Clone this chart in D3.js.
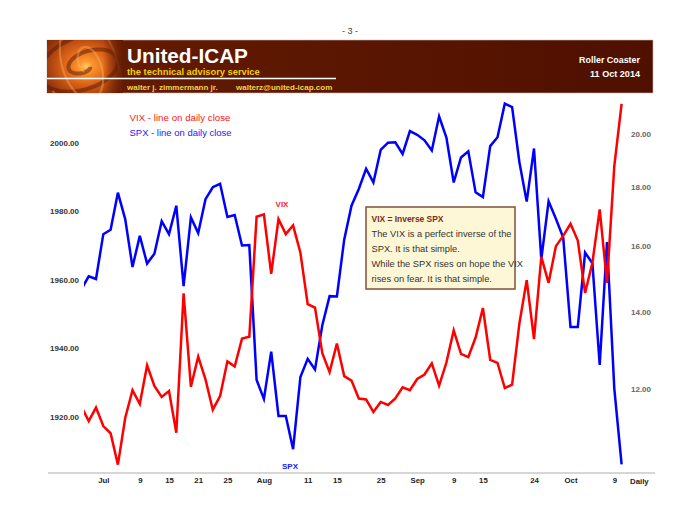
<!DOCTYPE html>
<html><head><meta charset="utf-8">
<script src="https://cdn.jsdelivr.net/npm/d3@7"></script>
<style>
html,body{margin:0;padding:0;background:#fff;}
svg{display:block;}
text{font-family:"Liberation Sans",Arial,sans-serif;}
</style></head>
<body>
<svg id="chart" width="700" height="525"></svg>
<script>
// ---------------- data ----------------
const dates = ["Jun 26","Jun 27","Jun 30","Jul 1","Jul 2","Jul 3","Jul 7","Jul 8","Jul 9","Jul 10",
"Jul 11","Jul 14","Jul 15","Jul 16","Jul 17","Jul 18","Jul 21","Jul 22","Jul 23","Jul 24",
"Jul 25","Jul 28","Jul 29","Jul 30","Jul 31","Aug 1","Aug 4","Aug 5","Aug 6","Aug 7",
"Aug 8","Aug 11","Aug 12","Aug 13","Aug 14","Aug 15","Aug 18","Aug 19","Aug 20","Aug 21",
"Aug 22","Aug 25","Aug 26","Aug 27","Aug 28","Aug 29","Sep 2","Sep 3","Sep 4","Sep 5",
"Sep 8","Sep 9","Sep 10","Sep 11","Sep 12","Sep 15","Sep 16","Sep 17","Sep 18","Sep 19",
"Sep 22","Sep 23","Sep 24","Sep 25","Sep 26","Sep 29","Sep 30","Oct 1","Oct 2","Oct 3",
"Oct 6","Oct 7","Oct 8","Oct 9","Oct 10"];

const spx = [1957.2,1961.0,1960.2,1973.3,1974.6,1985.4,1977.7,1963.7,1972.8,1964.7,
1967.6,1977.1,1973.3,1981.6,1958.1,1978.2,1973.6,1983.5,1987.0,1988.0,
1978.3,1978.9,1970.0,1970.1,1930.7,1925.2,1939.0,1920.2,1920.2,1910.5,
1931.6,1936.9,1933.8,1946.7,1955.2,1955.1,1971.7,1981.6,1986.5,1992.4,
1988.4,1997.9,2000.0,2000.1,1996.7,2003.4,2002.3,2000.7,1997.7,2007.7,
2001.5,1988.4,1995.7,1997.5,1985.5,1984.1,1999.0,2001.6,2011.4,2010.4,
1994.3,1982.8,1998.3,1966.0,1982.9,1977.8,1972.3,1946.2,1946.2,1967.9,
1964.8,1935.1,1971.0,1928.2,1906.1];

const vix = [11.59,11.26,11.57,11.15,10.99,10.32,11.33,11.98,11.65,12.59,
12.08,11.82,11.96,11.00,14.54,12.06,12.81,12.24,11.52,11.84,
12.69,12.56,13.28,13.33,16.95,17.03,15.12,16.87,16.37,16.66,
15.77,14.23,14.13,12.90,12.42,13.15,12.32,12.21,11.78,11.76,
11.47,11.70,11.63,11.78,12.05,11.98,12.25,12.36,12.64,12.09,
12.66,13.50,12.88,12.80,13.31,14.12,12.73,12.65,12.03,12.11,
13.69,14.93,13.27,15.64,14.85,15.98,16.31,16.71,16.16,14.55,
15.46,17.20,14.85,18.76,21.24];

const tickDates  = ["Jul 1","Jul 9","Jul 15","Jul 21","Jul 25","Aug 1","Aug 11","Aug 15","Aug 25","Sep 2","Sep 9","Sep 15","Sep 24","Oct 1","Oct 9"];
const tickLabels = ["Jul","9","15","21","25","Aug","11","15","25","Sep","9","15","24","Oct","9"];
const spxTicks = [1920,1940,1960,1980,2000];
const vixTicks = [12,14,16,18,20];

const boxLines = ["The VIX is a perfect inverse of the","SPX. It is that simple.","While the SPX rises on hope the VIX","rises on fear. It is that simple."];

// ---------------- drawing ----------------
const svg = d3.select("#chart");
const defs = svg.append("defs");

// scale a text's font size so that it spans the given width
function fit(sel, w){
  const l = sel.node().getComputedTextLength();
  if (l > 0) sel.attr("font-size", (+sel.attr("font-size")) * w / l);
  return sel;
}

// page number
svg.append("text").attr("x",350).attr("y",34).attr("text-anchor","middle")
  .attr("font-size",9).attr("fill","#444").text("- 3 -");

// banner
const bg = defs.append("linearGradient").attr("id","bannerGrad").attr("x1","0").attr("x2","1").attr("y1","0").attr("y2","0");
bg.append("stop").attr("offset","0").attr("stop-color","#6e2106");
bg.append("stop").attr("offset","0.15").attr("stop-color","#621a02");
bg.append("stop").attr("offset","1").attr("stop-color","#4f1000");
svg.append("rect").attr("x",47).attr("y",40).attr("width",606).attr("height",53)
  .attr("fill","url(#bannerGrad)").attr("stroke","#c9b8b0").attr("stroke-width",0.6);

const rg = defs.append("radialGradient").attr("id","swirlGrad")
  .attr("cx",0.5).attr("cy",0.5).attr("r",0.6);
rg.append("stop").attr("offset","0").attr("stop-color","#ffd070");
rg.append("stop").attr("offset","0.1").attr("stop-color","#ff9a30");
rg.append("stop").attr("offset","0.4").attr("stop-color","#dc6318");
rg.append("stop").attr("offset","0.75").attr("stop-color","#9a370c");
rg.append("stop").attr("offset","1").attr("stop-color","#6a1f04");
defs.append("clipPath").attr("id","swirlClip").append("rect")
  .attr("x",47).attr("y",40).attr("width",76).attr("height",53);
const sw = svg.append("g").attr("clip-path","url(#swirlClip)");
sw.append("rect").attr("x",40).attr("y",28).attr("width",92).attr("height",76).attr("fill","url(#swirlGrad)");
const fadeG = defs.append("linearGradient").attr("id","fadeGrad").attr("x1","0").attr("x2","1");
fadeG.append("stop").attr("offset","0").attr("stop-color","#621a02").attr("stop-opacity",0);
fadeG.append("stop").attr("offset","1").attr("stop-color","#621a02").attr("stop-opacity",1);
// spiral decoration
function spiral(cx, cy, a, b, t0, t1, sx, sy, rot){
  const pts = d3.range(t0, t1, 0.08).map(t => {
    const r = a + b*t;
    const x0 = r*Math.cos(t)*sx, y0 = r*Math.sin(t)*sy;
    return [cx + x0*Math.cos(rot) - y0*Math.sin(rot), cy + x0*Math.sin(rot) + y0*Math.cos(rot)];
  });
  return d3.line().curve(d3.curveBasis)(pts);
}
sw.append("path").attr("d",spiral(86,66,1,3.0,0.8,14,1.6,0.9,-0.3))
  .attr("fill","none").attr("stroke","#5a1602").attr("stroke-opacity",0.5).attr("stroke-width",4);
sw.append("path").attr("d",spiral(86,66,2,3.0,0.8,14,1.6,0.9,-0.3+1.6))
  .attr("fill","none").attr("stroke","#ffc070").attr("stroke-opacity",0.35).attr("stroke-width",2.2);
sw.append("rect").attr("x",103).attr("y",40).attr("width",20).attr("height",53).attr("fill","url(#fadeGrad)");

svg.append("line").attr("x1",47).attr("x2",336).attr("y1",78.5).attr("y2",78.5)
  .attr("stroke","#ffffff").attr("stroke-width",1.3);
fit(svg.append("text").attr("x",127).attr("y",63).attr("font-size",20).attr("font-weight","bold")
  .attr("fill","#ffffff").text("United-ICAP"), 121);
fit(svg.append("text").attr("x",127).attr("y",74.5).attr("font-size",9).attr("font-weight","bold")
  .attr("fill","#f2d200").text("the technical advisory service"), 133);
svg.append("text").attr("x",127).attr("y",90).attr("font-size",8).attr("font-weight","bold")
  .attr("fill","#f3d34a").text("walter j. zimmermann jr.");
svg.append("text").attr("x",236).attr("y",90).attr("font-size",8).attr("font-weight","bold")
  .attr("fill","#f3d34a").text("walterz@united-icap.com");
fit(svg.append("text").attr("x",640).attr("y",62.5).attr("text-anchor","end").attr("font-size",9).attr("font-weight","bold")
  .attr("fill","#ffffff").text("Roller Coaster"), 61);
fit(svg.append("text").attr("x",640).attr("y",77).attr("text-anchor","end").attr("font-size",9).attr("font-weight","bold")
  .attr("fill","#ffffff").text("11 Oct 2014"), 50);

// scales
const x = d3.scalePoint().domain(dates).range([81.4, 621.6]);
const yL = d3.scaleLinear().domain([1920, 2000]).range([416.7, 142.7]);
const yR = d3.scaleLog().domain([12, 20]).range([389.3, 134]);

// axis baseline
svg.append("line").attr("x1",48).attr("x2",655).attr("y1",473).attr("y2",473)
  .attr("stroke","#c8c8c8").attr("stroke-width",1.5);

// axes
const gl = svg.append("g").attr("transform","translate(79,0)")
  .call(d3.axisLeft(yL).tickValues(spxTicks).tickFormat(d3.format(".2f")).tickSize(0).tickPadding(0));
gl.select(".domain").remove();
gl.selectAll("text").attr("font-size",8).attr("font-weight","bold").attr("fill","#333")
  .attr("font-family","Liberation Sans, Arial, sans-serif");

const gr = svg.append("g").attr("transform","translate(631,0)")
  .call(d3.axisRight(yR).tickValues(vixTicks).tickFormat(d3.format(".2f")).tickSize(0).tickPadding(0));
gr.select(".domain").remove();
gr.selectAll("text").attr("font-size",8).attr("font-weight","bold").attr("fill","#666")
  .attr("font-family","Liberation Sans, Arial, sans-serif");

const gb = svg.append("g").attr("transform","translate(0,473)")
  .call(d3.axisBottom(x).tickValues(tickDates).tickFormat((d,i)=>tickLabels[i]).tickSize(0).tickPadding(4));
gb.select(".domain").remove();
gb.selectAll("text").attr("font-size",7.8).attr("font-weight","bold").attr("fill","#222")
  .attr("font-family","Liberation Sans, Arial, sans-serif");
svg.append("text").attr("x",630).attr("y",483.5).attr("font-size",7.8).attr("font-weight","bold")
  .attr("fill","#222").text("Daily");

// lines
defs.append("clipPath").attr("id","plotClip").append("rect")
  .attr("x",84).attr("y",88).attr("width",560).attr("height",385);
const plot = svg.append("g").attr("clip-path","url(#plotClip)");
plot.append("path").datum(spx)
  .attr("d", d3.line().x((d,i)=>x(dates[i])).y(d=>yL(d)))
  .attr("fill","none").attr("stroke","#0000ff").attr("stroke-width",2.5);
plot.append("path").datum(vix)
  .attr("d", d3.line().x((d,i)=>x(dates[i])).y(d=>yR(d)))
  .attr("fill","none").attr("stroke","#ff0000").attr("stroke-width",2.5);

// series labels
svg.append("text").attr("x",282).attr("y",207).attr("text-anchor","middle").attr("font-size",8)
  .attr("font-weight","bold").attr("fill","#ff2020").text("VIX");
svg.append("text").attr("x",290).attr("y",469).attr("text-anchor","middle").attr("font-size",8)
  .attr("font-weight","bold").attr("fill","#2020ff").text("SPX");

// legend
fit(svg.append("text").attr("x",129.5).attr("y",120.5).attr("font-size",9.7).attr("fill","#ff2020")
  .text("VIX - line on daily close"), 101);
fit(svg.append("text").attr("x",129.5).attr("y",136).attr("font-size",9.7).attr("fill","#2020ff")
  .text("SPX - line on daily close"), 102);

// annotation box
svg.append("rect").attr("x",366).attr("y",207).attr("width",149).attr("height",82)
  .attr("fill","#fdf7d6").attr("stroke","#80503a").attr("stroke-width",1.5);
fit(svg.append("text").attr("x",371.5).attr("y",221.5).attr("font-size",8.6).attr("font-weight","bold")
  .attr("fill","#7a2a1a").text("VIX = Inverse SPX"), 72);
const bl = svg.selectAll("text.box").data(boxLines).enter().append("text").attr("class","box")
  .attr("x",371.5).attr("y",(d,i)=>237 + i*15).attr("font-size",9.2).attr("fill","#333")
  .text(d=>d);
// common size from the first (full-width) line
const l0 = bl.nodes()[0].getComputedTextLength();
bl.attr("font-size", 9.2 * 140 / l0);
</script>
</body></html>
